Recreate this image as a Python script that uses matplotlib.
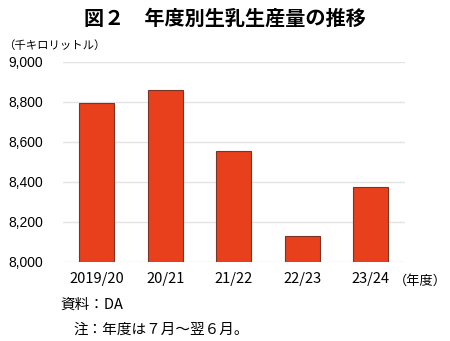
import matplotlib
matplotlib.use("Agg")
import matplotlib.pyplot as plt
from matplotlib.ticker import FuncFormatter

plt.rcParams['font.family'] = ['Noto Sans CJK JP', 'DejaVu Sans']

categories = ["2019/20", "20/21", "21/22", "22/23", "23/24"]
values = [8797, 8860, 8555, 8128, 8375]
yticks = [8000, 8200, 8400, 8600, 8800, 9000]

fig = plt.figure(figsize=(4.5, 3.41), dpi=100)
ax = fig.add_axes([0.139, 0.2317, 0.761, 0.5865])

x = list(range(len(categories)))
ax.bar(x, values, width=0.51, color="#E8401C", edgecolor="#7A3324", linewidth=0.8, zorder=3)
ax.set_xlim(-0.5, len(categories) - 0.5)
ax.set_ylim(8000, 9000)
ax.set_yticks(yticks)
ax.yaxis.set_major_formatter(FuncFormatter(lambda v, p: f"{int(v):,}"))
ax.grid(axis="y", color="#E4E4E4", linewidth=1.0, zorder=0)
for s in ax.spines.values():
    s.set_visible(False)
ax.tick_params(axis="y", length=0, pad=14, labelsize=10)
ax.tick_params(axis="x", length=0, pad=7, labelsize=10.5)
for lab in ax.get_yticklabels():
    lab.set_fontfamily("Liberation Sans")
ax.set_xticks(x)
ax.set_xticklabels(categories)

fig.text(0.5, 0.947, "図２　年度別生乳生産量の推移", ha="center", va="center",
         fontsize=14.5, fontweight="bold")
fig.text(0.006, 0.868, "（千キロリットル）", ha="left", va="center", fontsize=8.2)
fig.text(0.876, 0.176, "（年度）", ha="left", va="center", fontsize=9.5)
fig.text(0.133, 0.106, "資料：DA", ha="left", va="center", fontsize=10.5)
fig.text(0.164, 0.032, "注：年度は７月～翌６月。", ha="left", va="center", fontsize=10.5)

fig.savefig("out.png", dpi=100)
